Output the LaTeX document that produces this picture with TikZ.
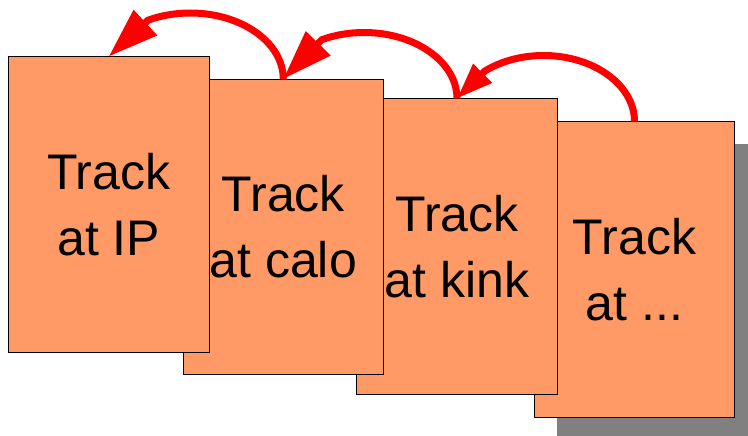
\documentclass[tikz,border=0pt]{standalone}
\usepackage{fontspec}
\setmainfont{Liberation Sans}
\usetikzlibrary{arrows.meta,shadows}
\definecolor{cardfill}{HTML}{FF9966}
\definecolor{shadowgray}{HTML}{808080}
\definecolor{arrowred}{HTML}{FF0000}
\begin{document}
\begin{tikzpicture}[x=1pt,y=1pt,
  card/.style={draw=black, line width=1pt, fill=cardfill, rectangle,
    minimum width=200.5pt, minimum height=295pt, inner sep=0pt,
    align=center, font=\fontsize{50}{66}\selectfont},
  backcard/.style={card, drop shadow={shadow xshift=22.5pt, shadow yshift=-22pt,
    fill=shadowgray, opacity=1}},
  backarrow/.style={draw=arrowred, line width=7pt, line cap=butt}
]
\useasboundingbox (0,0) rectangle (748,-436);
\clip (0,0) rectangle (748,-436);
\node[backcard] (c4) at (634.5,-269.5) {Track\\at ...};
\node[card] (c3) at (457,-246.5) {Track\\at kink};
\node[card] (c2) at (283.25,-227) {Track\\at calo};
\node[card] (c1) at (108.75,-204.5) {Track\\at IP};
\draw[backarrow, -{Triangle[length=36pt,width=25pt]}]
  (c4.north) arc[start angle=0, end angle=130, x radius=91, y radius=66] -- (c3.north);
\draw[backarrow, -{Triangle[length=50pt,width=33pt]}]
  (c3.north) arc[start angle=0, end angle=117, x radius=93, y radius=66] -- (c2.north);
\draw[backarrow, -{Triangle[length=50pt,width=33pt]}]
  (c2.north) arc[start angle=0, end angle=117, x radius=93, y radius=66] -- (c1.north);
\end{tikzpicture}
\end{document}
